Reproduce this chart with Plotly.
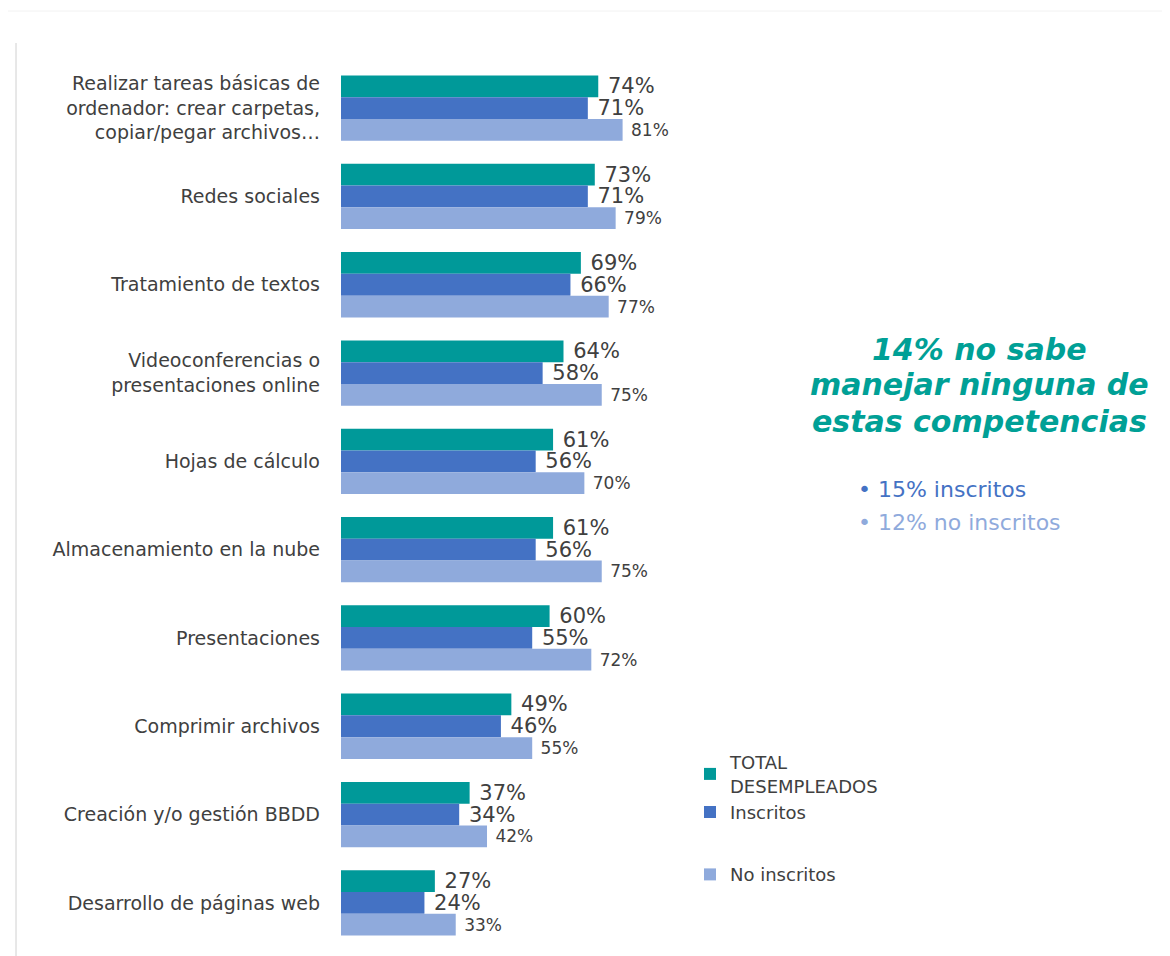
import plotly.graph_objects as go

categories = [
    "Realizar tareas básicas de<br>ordenador: crear carpetas,<br>copiar/pegar archivos…",
    "Redes sociales",
    "Tratamiento de textos",
    "Videoconferencias o<br>presentaciones online",
    "Hojas de cálculo",
    "Almacenamiento en la nube",
    "Presentaciones",
    "Comprimir archivos",
    "Creación y/o gestión BBDD",
    "Desarrollo de páginas web",
]
total = [74, 73, 69, 64, 61, 61, 60, 49, 37, 27]
inscritos = [71, 71, 66, 58, 56, 56, 55, 46, 34, 24]
no_inscritos = [81, 79, 77, 75, 70, 75, 72, 55, 42, 33]

series_names = ["TOTAL<br>DESEMPLEADOS", "Inscritos", "No inscritos"]
colors = ["#009999", "#4472C4", "#8FAADC"]
label_sizes = [21, 21, 17]
groups = ["a", "a", "b"]

FONT = "'DejaVu Sans', sans-serif"
TXT = "#404040"

fig = go.Figure()
for name, vals, col, fs, g in zip(series_names, [total, inscritos, no_inscritos], colors, label_sizes, groups):
    fig.add_trace(go.Bar(
        y=categories, x=vals, name=name, orientation="h",
        marker=dict(color=col, line=dict(width=0)),
        texttemplate="\u00a0%{x}%", textposition="outside",
        textfont=dict(size=fs, color=TXT, family=FONT),
        constraintext="none", cliponaxis=False,
        legendgroup=g,
    ))

# page has an 8px body margin; figure coordinates are offset accordingly
OFF = 8
W, H = 1170 - OFF, 956 - OFF
PL, PT = 341, 64          # plot-area left/top in page pixels
pw, ph = 348, 883
L, T = PL - OFF, PT - OFF
R = W - L - pw
B = H - T - ph

def px(x):
    return (x - PL) / pw

def py(y):
    return 1 - (y - PT) / ph

fig.update_layout(
    width=W, height=H,
    margin=dict(l=L, r=R, t=T, b=B, autoexpand=False),
    paper_bgcolor="white", plot_bgcolor="white",
    barmode="group", bargap=0.26, bargroupgap=0,
    font=dict(family=FONT, color=TXT),
    xaxis=dict(range=[0, 100.1], visible=False, showgrid=False, zeroline=False),
    yaxis=dict(autorange="reversed", showgrid=False, zeroline=False, showline=False,
               ticks="", ticklabelstandoff=20,
               tickfont=dict(size=19, color=TXT, family=FONT)),
    legend=dict(x=px(690), y=py(744), xanchor="left", yanchor="top",
                font=dict(size=18, color=TXT, family=FONT),
                traceorder="grouped", tracegroupgap=36, itemwidth=30,
                bgcolor="rgba(0,0,0,0)"),
    showlegend=True,
)

for line_text, yc in [("14% no sabe", 349), ("manejar ninguna de", 385), ("estas competencias", 421)]:
    fig.add_annotation(
        x=px(979), y=py(yc), xref="paper", yref="paper", showarrow=False,
        text="<b><i>" + line_text + "</i></b>",
        font=dict(size=30, color="#00A096", family="DejaVu Sans"),
        xanchor="center", yanchor="middle",
    )
fig.add_annotation(
    x=px(856), y=py(490), xref="paper", yref="paper", showarrow=False,
    text="• 15% inscritos", font=dict(size=22, color="#4472C4", family=FONT),
    xanchor="left", yanchor="middle",
)
fig.add_annotation(
    x=px(856), y=py(522), xref="paper", yref="paper", showarrow=False,
    text="• 12% no inscritos", font=dict(size=22, color="#8FAADC", family=FONT),
    xanchor="left", yanchor="middle",
)

fig.add_shape(type="line", xref="paper", yref="paper",
              x0=px(16), x1=px(16), y0=py(43), y1=py(956),
              line=dict(color="#D0D0D0", width=1))
fig.add_shape(type="line", xref="paper", yref="paper",
              x0=px(8), x1=px(1170), y0=py(11), y1=py(11),
              line=dict(color="#F2F2F2", width=1))

fig.write_html("out.html")
